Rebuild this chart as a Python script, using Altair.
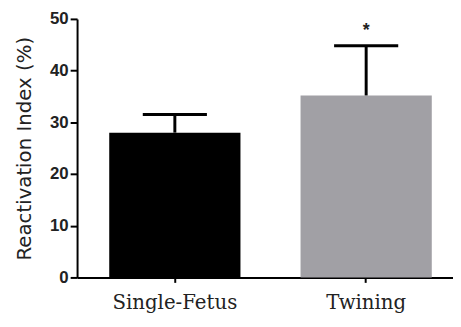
import altair as alt
import pandas as pd

groups = ["Single-Fetus", "Twining"]
means = [28.0, 35.2]
upper = [31.5, 44.8]
colors = ["#000000", "#a1a0a5"]
star_label = ["", "*"]
star_pos = [None, 47.6]

df = pd.DataFrame({"group": groups, "mean": means, "upper": upper, "color": colors})
star_df = pd.DataFrame({"group": [groups[1]], "y": [star_pos[1]], "t": [star_label[1]]})

x = alt.X("group:N", sort=groups, title=None,
          scale=alt.Scale(paddingInner=0.321, paddingOuter=0.143, align=0.6),
          axis=alt.Axis(labelAngle=0, labelFont="DejaVu Serif", labelFontSize=20,
                        labelColor="#222222", labelPadding=10, tickSize=5,
                        tickWidth=2, tickColor="#000", domainColor="#000",
                        domainWidth=2))
y = alt.Y("mean:Q", title="Reactivation Index (%)",
          scale=alt.Scale(domain=[0, 50], nice=False),
          axis=alt.Axis(values=[0, 10, 20, 30, 40, 50], grid=False,
                        labelFont="Liberation Sans", labelFontWeight="bold",
                        labelFontSize=17, labelColor="#222222", labelPadding=2,
                        tickSize=7, tickWidth=2, tickColor="#000",
                        domainColor="#000", domainWidth=2,
                        titleFont="DejaVu Sans", titleFontSize=20,
                        titleFontWeight=500, titleColor="#222222",
                        titlePadding=15))

bars = alt.Chart(df).mark_bar(size=133).encode(
    x=x, y=y,
    color=alt.Color("color:N", scale=None),
)
rules = alt.Chart(df).mark_rule(color="#000", strokeWidth=3).encode(
    x=alt.X("group:N", sort=groups), y=alt.Y("mean:Q"), y2="upper:Q")
caps = alt.Chart(df).mark_tick(color="#000", size=65, thickness=3, opacity=1).encode(
    x=alt.X("group:N", sort=groups), y=alt.Y("upper:Q"))
star = alt.Chart(star_df).mark_text(fontSize=18, font="Liberation Sans",
                                    fontWeight="bold", baseline="middle",
                                    color="#222").encode(
    x=alt.X("group:N", sort=groups), y=alt.Y("y:Q"), text="t:N")

chart = alt.layer(bars, rules, caps, star).properties(
    width=381, height=262,
    padding={"left": 7, "top": 0, "right": 0, "bottom": 0},
).configure_view(stroke=None)

chart.save("out.html", embed_options={"renderer": "svg", "actions": False})
